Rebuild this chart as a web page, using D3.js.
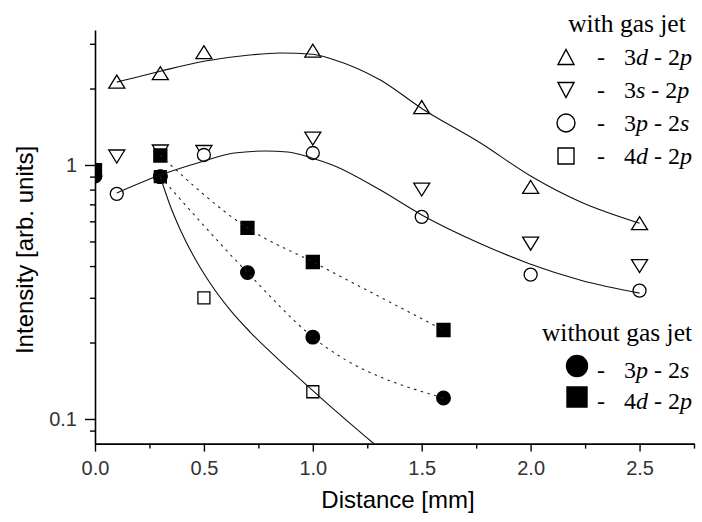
<!DOCTYPE html>
<html>
<head>
<meta charset="utf-8">
<script src="https://cdn.jsdelivr.net/npm/d3@7"></script>
<style>
  body { margin: 0; background: #fff; }
  svg { display: block; }
</style>
</head>
<body>
<svg id="chart" width="702" height="522"></svg>
<script>
// ---- measured intensities (arb. units) vs distance (mm) ----
// with gas jet
const distWith = [0.1, 0.3, 0.5, 1.0, 1.5, 2.0, 2.5];
const i3d2p = [2.13, 2.30, 2.78, 2.82, 1.69, 0.82, 0.59];
const i3s2p = [1.08, 1.13, 1.125, 1.27, 0.80, 0.49, 0.40];
const i3p2s = [0.77, 0.90, 1.095, 1.115, 0.625, 0.37, 0.32];
const dist4d = [0.3, 0.5, 1.0];
const i4d2p = [0.90, 0.30, 0.128];

// without gas jet
const distWithout = [0, 0.3, 0.7, 1.0, 1.6];
const i3p2sNoJet = [0.905, 0.90, 0.377, 0.21, 0.121];
const i4d2pNoJet = [0.955, 1.09, 0.565, 0.415, 0.224];

// fitted curves (solid)
const fit3d2pX = [0.1, 0.3, 0.5, 0.71, 0.85, 1.0, 1.09, 1.31, 1.5, 1.77, 2.0, 2.23, 2.5];
const fit3d2pY = [2.12, 2.34, 2.56, 2.71, 2.76, 2.73, 2.61, 2.16, 1.67, 1.22, 0.905, 0.715, 0.59];
const fit3p2sX = [0.1, 0.3, 0.49, 0.64, 0.78, 0.885, 0.995, 1.09, 1.31, 1.5, 1.77, 2.0, 2.23, 2.5];
const fit3p2sY = [0.776, 0.913, 1.03, 1.115, 1.135, 1.125, 1.066, 1.0, 0.797, 0.636, 0.49, 0.407, 0.352, 0.313];
const fit4d2pX = [0.3, 0.344, 0.39, 0.45, 0.528, 0.62, 0.712, 0.895, 1.047, 1.28];
const fit4d2pY = [0.897, 0.696, 0.560, 0.442, 0.343, 0.269, 0.220, 0.156, 0.119, 0.08];

// axis ticks
const xMajor = [0, 0.5, 1.0, 1.5, 2.0, 2.5];
const xMinor = [0.25, 0.75, 1.25, 1.75, 2.25, 2.75];
const yMajor = [0.1, 1];
const yMinor = [0.09, 0.2, 0.3, 0.4, 0.5, 0.6, 0.7, 0.8, 0.9, 2, 3];

// legend entries
const legendWithTitle = "with gas jet";
const legendWith = [
  { sym: "triUp", label: "3d - 2p" },
  { sym: "triDown", label: "3s - 2p" },
  { sym: "circle", label: "3p - 2s" },
  { sym: "square", label: "4d - 2p" }
];
const legendWithoutTitle = "without gas jet";
const legendWithout = [
  { sym: "dot", label: "3p - 2s" },
  { sym: "block", label: "4d - 2p" }
];

// ---- drawing ----
const svg = d3.select("#chart");
const x = d3.scaleLinear().domain([0, 2.75]).range([95, 694]);
const y = d3.scaleLog().domain([0.08, 3.4]).range([443.6, 30]);

svg.append("defs").append("clipPath").attr("id", "plotClip")
  .append("rect")
  .attr("x", x(0)).attr("y", y(3.4) - 20)
  .attr("width", x(2.75) - x(0) + 20).attr("height", y(0.08) - y(3.4) + 20);

// marker shapes centred at the origin
function symbolPath(type, s) {
  switch (type) {
    case "triUp": {
      const w = s.tw, h = s.th;
      return `M${-w / 2},${h / 2}L${w / 2},${h / 2}L0,${-h / 2}Z`;
    }
    case "triDown": {
      const w = s.tw, h = s.th;
      return `M${-w / 2},${-h / 2}L${w / 2},${-h / 2}L0,${h / 2}Z`;
    }
    case "circle":
    case "dot": {
      const r = type === "dot" ? s.dr : s.r;
      return `M${r},0A${r},${r} 0 1,1 ${-r},0A${r},${r} 0 1,1 ${r},0Z`;
    }
    case "square":
    case "block": {
      const a = (type === "block" ? s.bq : s.q) / 2;
      return `M${-a},${-a}H${a}V${a}H${-a}Z`;
    }
  }
}
const plotSize = { tw: 16, th: 13, r: 6.5, dr: 6.8, q: 12, bq: 13 };
const legendSize = { tw: 16, th: 15, r: 9, dr: 10.5, q: 16, bq: 20 };

function styleFor(type) {
  const filled = type === "dot" || type === "block";
  return { fill: filled ? "#000" : "#fff", stroke: "#000" };
}

const plot = svg.append("g").attr("clip-path", "url(#plotClip)");

function drawMarkers(xs, ys, type) {
  const st = styleFor(type);
  plot.append("g").selectAll("path")
    .data(xs.map((d, i) => [d, ys[i]]))
    .join("path")
    .attr("transform", d => `translate(${x(d[0])},${y(d[1])})`)
    .attr("d", symbolPath(type, plotSize))
    .attr("fill", st.fill)
    .attr("stroke", st.stroke)
    .attr("stroke-width", 1.3);
}

// open markers (with gas jet)
drawMarkers(distWith, i3d2p, "triUp");
drawMarkers(distWith, i3s2p, "triDown");
drawMarkers(distWith, i3p2s, "circle");
drawMarkers(dist4d, i4d2p, "square");
// filled markers (without gas jet)
drawMarkers(distWithout, i4d2pNoJet, "block");
drawMarkers(distWithout, i3p2sNoJet, "dot");

// curves
const line = d3.line().x(d => x(d[0])).y(d => y(d[1])).curve(d3.curveMonotoneX);
function drawCurve(xs, ys, dashed) {
  plot.append("path")
    .datum(xs.map((d, i) => [d, ys[i]]))
    .attr("d", line)
    .attr("fill", "none")
    .attr("stroke", dashed ? "#222" : "#111")
    .attr("stroke-width", 1.1)
    .attr("stroke-dasharray", dashed ? "2.5,4.5" : null);
}
drawCurve(fit3d2pX, fit3d2pY, false);
drawCurve(fit3p2sX, fit3p2sY, false);
drawCurve(fit4d2pX, fit4d2pY, false);

// dotted guides join the measurements taken beyond the nozzle edge
const startIdx = distWithout.findIndex(d => d >= 0.3);
drawCurve(distWithout.slice(startIdx), i3p2sNoJet.slice(startIdx), true);
drawCurve(distWithout.slice(startIdx), i4d2pNoJet.slice(startIdx), true);

// axes
const tickFont = "'Liberation Sans', Arial, sans-serif";
svg.append("g").attr("transform", `translate(0,${y(0.08)})`)
  .call(d3.axisBottom(x).tickValues(xMajor).tickSize(8).tickSizeOuter(0)
    .tickPadding(9).tickFormat(d3.format(".1f")));
svg.append("g").attr("transform", `translate(0,${y(0.08)})`)
  .call(d3.axisBottom(x).tickValues(xMinor).tickSize(5).tickSizeOuter(0).tickFormat(""))
  .select(".domain").remove();

svg.append("g").attr("transform", `translate(${x(0)},0)`)
  .call(d3.axisLeft(y).tickValues(yMajor).tickSize(10).tickSizeOuter(0)
    .tickPadding(8).tickFormat(d => d === 1 ? "1" : d3.format(".1f")(d)));
svg.append("g").attr("transform", `translate(${x(0)},0)`)
  .call(d3.axisLeft(y).tickValues(yMinor).tickSize(5).tickSizeOuter(0).tickFormat(""))
  .select(".domain").remove();

svg.selectAll(".domain").attr("stroke", "#000").attr("stroke-width", 1.6);
svg.selectAll(".tick line").attr("stroke", "#000").attr("stroke-width", 1.4);
svg.selectAll(".tick text")
  .attr("font-family", tickFont).attr("font-size", 20).attr("fill", "#333");

// axis titles
svg.append("text")
  .attr("x", 398).attr("y", 508)
  .attr("text-anchor", "middle")
  .attr("font-family", tickFont).attr("font-size", 24).attr("fill", "#000")
  .text("Distance [mm]");
svg.append("text")
  .attr("transform", "translate(33,250) rotate(-90)")
  .attr("text-anchor", "middle")
  .attr("font-family", tickFont).attr("font-size", 24).attr("fill", "#000")
  .text("Intensity [arb. units]");

// legends
const serif = "'Liberation Serif', 'Times New Roman', serif";
function addLabel(g, label, lx, ly) {
  const t = g.append("text").attr("x", lx).attr("y", ly)
    .attr("font-family", serif).attr("font-size", 24).attr("fill", "#000");
  label.split(/([a-z])/).filter(s => s.length).forEach(part => {
    t.append("tspan")
      .attr("font-style", /^[a-z]$/.test(part) ? "italic" : null)
      .text(part);
  });
}
function drawLegend(title, titleX, titleY, entries, symX, rowY0, rowStep, symDy) {
  const g = svg.append("g");
  g.append("text").attr("x", titleX).attr("y", titleY)
    .attr("text-anchor", "middle")
    .attr("font-family", serif).attr("font-size", 25.5).attr("fill", "#000")
    .text(title);
  entries.forEach((e, i) => {
    const by = rowY0 + i * rowStep;
    const st = styleFor(e.sym);
    g.append("path")
      .attr("transform", `translate(${symX},${by - symDy})`)
      .attr("d", symbolPath(e.sym, legendSize))
      .attr("fill", st.fill).attr("stroke", "#000").attr("stroke-width", 1.4);
    g.append("text").attr("x", 601).attr("y", by)
      .attr("text-anchor", "middle")
      .attr("font-family", serif).attr("font-size", 24).attr("fill", "#000")
      .text("-");
    addLabel(g, e.label, 624, by);
  });
}
drawLegend(legendWithTitle, 627, 32, legendWith, 566, 65, 33, 8);
drawLegend(legendWithoutTitle, 617, 341, legendWithout, 577, 378, 31, 12);
</script>
</body>
</html>
